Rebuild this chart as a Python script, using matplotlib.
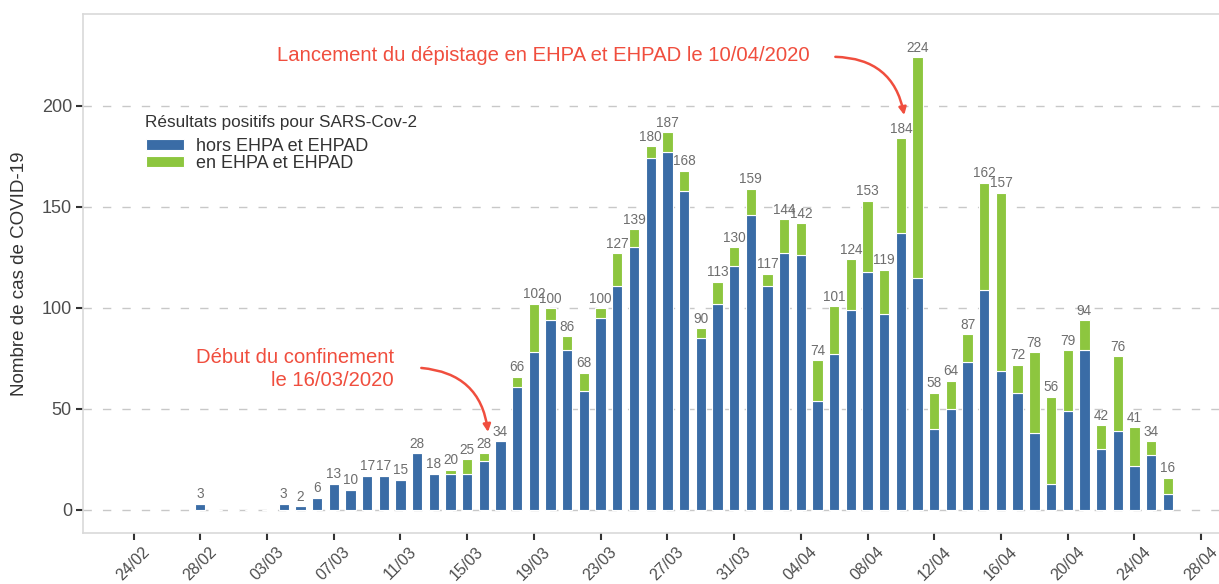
import matplotlib
matplotlib.use("Agg")
import matplotlib.pyplot as plt
import matplotlib.dates as mdates
import matplotlib.transforms as mtransforms
import pandas as pd
import numpy as np

plt.rcParams['font.family'] = ['Liberation Sans', 'DejaVu Sans']

# ---- data ----
start_date = "2020-02-28"
hors_ehpad = [3, 0, 0, 0, 0, 3, 2, 6, 13, 10, 17, 17, 15, 28, 18, 18, 18, 24, 34,
              61, 78, 94, 79, 59, 95, 111, 130, 174, 177, 158, 85, 102, 121,
              146, 111, 127, 126, 54, 77, 99, 118, 97, 137, 115, 40, 50, 73,
              109, 69, 58, 38, 13, 49, 79, 30, 39, 22, 27, 8]
en_ehpad = [0, 0, 0, 0, 0, 0, 0, 0, 0, 0, 0, 0, 0, 0, 0, 2, 7, 4, 0,
            5, 24, 6, 7, 9, 5, 16, 9, 6, 10, 10, 5, 11, 9,
            13, 6, 17, 16, 20, 24, 25, 35, 22, 47, 109, 18, 14, 14,
            53, 88, 14, 40, 43, 30, 15, 12, 37, 19, 7, 8]
dates = pd.date_range(start_date, periods=len(hors_ehpad), freq="D")
tick_dates = pd.date_range("2020-02-24", "2020-04-28", freq="4D")

series_labels = ["hors EHPA et EHPAD", "en EHPA et EHPAD"]
legend_title = "Résultats positifs pour SARS-Cov-2"
y_label = "Nombre de cas de COVID-19"
annot1 = "Lancement du dépistage en EHPA et EHPAD le 10/04/2020"
annot2 = "Début du confinement\nle 16/03/2020"

blue = "#3A6CA6"
green = "#8DC63F"
red = "#F04E3E"

W, H = 1219, 584
fig = plt.figure(figsize=(W / 100, H / 100), dpi=100)
ax = fig.add_axes([83 / W, 51 / H, (W - 83) / W + 0.01, (533 - 14) / H])

x = mdates.date2num(dates)
hors = np.array(hors_ehpad)
en = np.array(en_ehpad)
tot = hors + en

ax.bar(x, hors, width=0.62, color=blue, edgecolor="white", linewidth=0.8,
       zorder=3, label=series_labels[0])
ax.bar(x, en, bottom=hors, width=0.62, color=green, edgecolor="white",
       linewidth=0.8, zorder=3, label=series_labels[1])

for xi, t in zip(x, tot):
    if t > 0:
        ax.text(xi, t + 1.2, str(t), ha="center", va="bottom", fontsize=9.8,
                color="#6e6e6e", zorder=4)

d0 = mdates.date2num(pd.Timestamp("2020-02-24"))
ax.set_xlim(d0 - 3.03, d0 + 65.8)
ax.set_ylim(-11.4, 245.5)

ax.set_xticks(mdates.date2num(tick_dates))
ax.xaxis.set_major_formatter(mdates.DateFormatter("%d/%m"))
ax.set_yticks([0, 50, 100, 150, 200])
shift = mtransforms.ScaledTranslation(-7 / 100, 0, fig.dpi_scale_trans)
for lab in ax.get_xticklabels():
    lab.set_rotation(45)
    lab.set_ha("center")
    lab.set_transform(lab.get_transform() + shift)

ax.tick_params(axis="x", length=5, width=1.5, color="#333333",
               labelsize=11.5, labelcolor="#4d4d4d", pad=3)
ax.tick_params(axis="y", length=5, width=1.5, color="#333333",
               labelsize=13, labelcolor="#4d4d4d", pad=3)

ax.yaxis.grid(True, linestyle=(0, (6, 8)), color="#c8c8c8", linewidth=1, zorder=0)
ax.set_axisbelow(True)
for s in ["left", "bottom", "top", "right"]:
    ax.spines[s].set_color("#d9d9d9")
    ax.spines[s].set_linewidth(1.2)
ax.spines["right"].set_visible(False)

ax.set_ylabel(y_label, fontsize=13.5, color="#333333", labelpad=10)

# annotations
ax.text(d0 + 40.55, 224.8, annot1, ha="right", va="center", fontsize=14.6,
        color=red)
ax.annotate("", xy=(d0 + 46.2, 195.5), xytext=(d0 + 42.07, 224.3),
            arrowprops=dict(arrowstyle="-|>", color=red, lw=1.8,
                            connectionstyle="arc3,rad=-0.4",
                            shrinkA=0, shrinkB=0, mutation_scale=11))
ax.text(d0 + 15.6, 69.8, annot2, ha="right", va="center", fontsize=14.6,
        color=red, multialignment="right", linespacing=1.3)
ax.annotate("", xy=(d0 + 21.25, 38.6), xytext=(d0 + 17.25, 70.3),
            arrowprops=dict(arrowstyle="-|>", color=red, lw=1.8,
                            connectionstyle="arc3,rad=-0.4",
                            shrinkA=0, shrinkB=0, mutation_scale=11))

# legend: title as separate text, entries as a legend
fig.text(145 / W, 1 - 123 / H, legend_title, ha="left", va="center",
         fontsize=12.3, color="#333333")
leg = ax.legend(loc="upper left", bbox_to_anchor=(146 / W, 1 - 138 / H),
                bbox_transform=fig.transFigure, frameon=False,
                fontsize=13, handlelength=2.1, handleheight=0.5,
                labelspacing=0.0, borderaxespad=0, handletextpad=0.65,
                borderpad=0)
for t in leg.get_texts():
    t.set_color("#333333")

fig.savefig("out.png", dpi=100)
